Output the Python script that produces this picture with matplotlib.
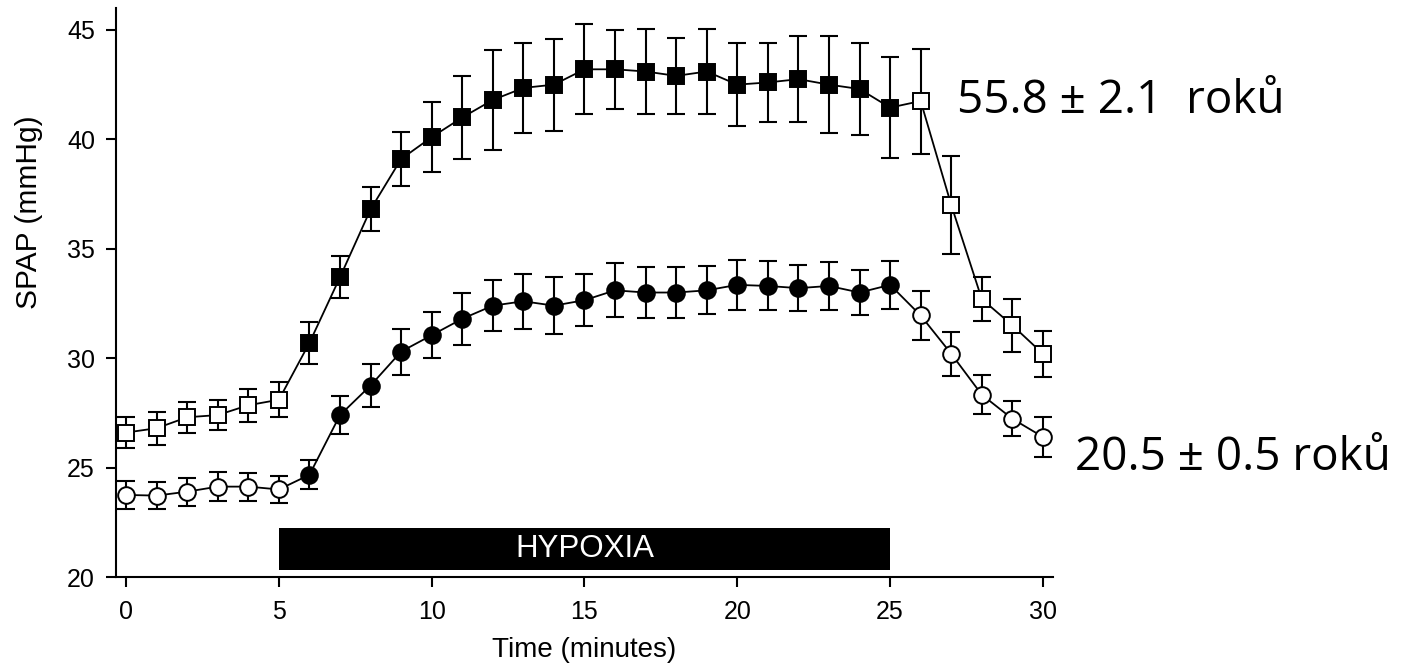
import matplotlib
matplotlib.use("Agg")
import matplotlib.pyplot as plt

plt.rcParams['font.family'] = ['Liberation Sans', 'DejaVu Sans']

# Time points (minutes)
minutes = list(range(31))

# Older group (squares)
sq_mean = [26.6, 26.8, 27.3, 27.4, 27.85, 28.1, 30.7, 33.7, 36.8, 39.1, 40.1,
           41.0, 41.8, 42.35, 42.5, 43.2, 43.2, 43.1, 42.9, 43.1, 42.5,
           42.6, 42.75, 42.5, 42.3, 41.45, 41.75, 37.0, 32.7, 31.5, 30.2]
sq_err = [0.7, 0.75, 0.7, 0.7, 0.75, 0.8, 0.95, 0.95, 1.0, 1.25, 1.6,
          1.9, 2.3, 2.05, 2.1, 2.05, 1.8, 1.95, 1.75, 1.95, 1.9,
          1.8, 1.95, 2.2, 2.1, 2.3, 2.4, 2.25, 1.0, 1.2, 1.05]

# Young group (circles)
ci_mean = [23.75, 23.72, 23.9, 24.13, 24.13, 24.0, 24.67, 27.4, 28.75, 30.3, 31.05,
           31.8, 32.4, 32.6, 32.4, 32.65, 33.1, 33.0, 33.0, 33.1, 33.35,
           33.3, 33.2, 33.3, 33.0, 33.35, 31.95, 30.2, 28.33, 27.23, 26.4]
ci_err = [0.62, 0.6, 0.64, 0.66, 0.64, 0.62, 0.66, 0.87, 1.0, 1.05, 1.06,
          1.2, 1.15, 1.25, 1.3, 1.2, 1.23, 1.15, 1.15, 1.1, 1.13,
          1.12, 1.05, 1.1, 1.03, 1.1, 1.1, 1.0, 0.9, 0.8, 0.9]

# hypoxia period
hyp_start, hyp_end = 5, 25
hyp_low, hyp_high = 20.3, 22.25

label_old = "55.8 ± 2.1  roků"
label_young = "20.5 ± 0.5 roků"

fig = plt.figure(figsize=(14.18, 6.70), dpi=100)
ax = fig.add_axes([0.0818, 0.1388, 0.6608, 0.8492])

for mean, err, mk in [(sq_mean, sq_err, 's'), (ci_mean, ci_err, 'o')]:
    ax.errorbar(minutes, mean, yerr=err, fmt='none', ecolor='black',
                elinewidth=1.5, capsize=6.8, capthick=1.5, zorder=2)
    ax.plot(minutes, mean, '-', color='black', lw=1.3, zorder=3)
    # open markers before and after hypoxia, filled during
    for i in range(len(minutes)):
        filled = 6 <= minutes[i] <= 25
        ax.plot(minutes[i], mean[i], marker=mk, ms=11 if mk == 's' else 12,
                mfc='black' if filled else 'white', mec='black', mew=1.4,
                zorder=4)

# hypoxia bar
ax.bar(hyp_start, hyp_high - hyp_low, bottom=hyp_low, width=hyp_end - hyp_start,
       align='edge', color='black', zorder=1)
ax.text((hyp_start + hyp_end) / 2, (hyp_low + hyp_high) / 2, "HYPOXIA",
        color='white', fontsize=22.5, ha='center', va='center', zorder=5)

ax.set_xlim(-0.33, 30.33)
ax.set_ylim(20, 46)
ax.set_xticks(range(0, 31, 5))
ax.set_yticks(range(20, 46, 5))
ax.spines['top'].set_visible(False)
ax.spines['right'].set_visible(False)
ax.spines['left'].set_linewidth(1.5)
ax.spines['bottom'].set_linewidth(1.5)
ax.tick_params(axis='both', direction='out', length=7.2, width=1.5, labelsize=18)
ax.tick_params(axis='y', pad=8)
ax.tick_params(axis='x', pad=9)

ax.set_xlabel("Time (minutes)", fontsize=20, labelpad=10)
ax.set_ylabel("SPAP (mmHg)", fontsize=21.5)
ax.yaxis.set_label_coords(-0.078, 0.6415)

fig.text(957 / 1418, 1 - 113 / 670, label_old, fontsize=33,
         family=['Open Sans', 'DejaVu Sans'], ha='left', va='baseline')
fig.text(1075 / 1418, 1 - 470 / 670, label_young, fontsize=33,
         family=['Open Sans', 'DejaVu Sans'], ha='left', va='baseline')

fig.savefig("out.png", dpi=100)
